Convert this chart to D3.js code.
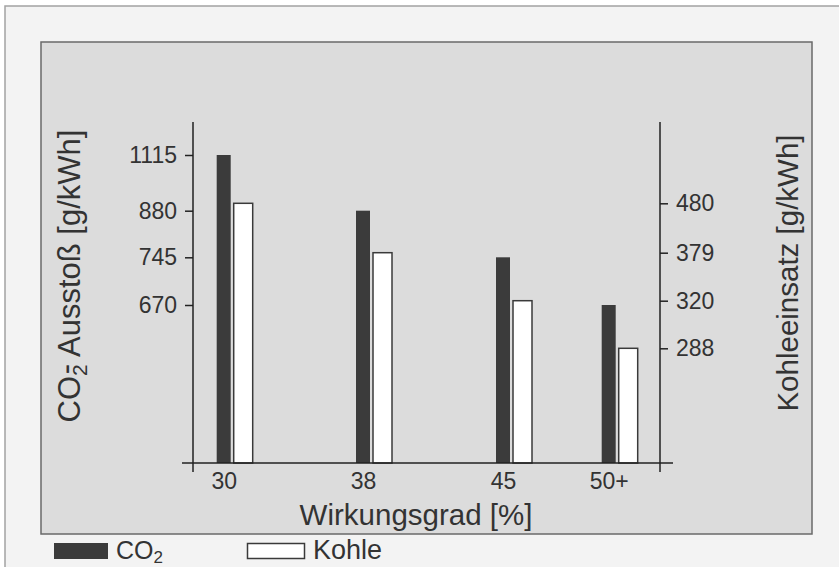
<!DOCTYPE html>
<html>
<head>
<meta charset="utf-8">
<script src="https://cdn.jsdelivr.net/npm/d3@7"></script>
<style>
  html, body { margin: 0; padding: 0; background: #ffffff; }
  svg { display: block; font-family: "Liberation Sans", Arial, Helvetica, sans-serif; }
</style>
</head>
<body>
<svg id="chart" width="839" height="567"></svg>
<script>
// ---- data ----
const categories = ["30", "38", "45", "50+"];
const efficiency = [30, 38, 45, 50];
const co2Values = [1115, 880, 745, 670];
const kohleValues = [480, 379, 320, 288];
const co2Ticks = [670, 745, 880, 1115];
const kohleTicks = [288, 320, 379, 480];

// ---- layout ----
const axisLeftX = 193, axisRightX = 660;
const baseY = 463, axisTopY = 122;
const textColor = "#333333";
const darkFill = "#3b3b3b";

const svg = d3.select("#chart");

// outer frame
svg.append("rect").attr("x", 5).attr("y", 6).attr("width", 900).attr("height", 700)
  .attr("fill", "#f3f3f3").attr("stroke", "#a3a3a3").attr("stroke-width", 1.5);
// panel
svg.append("rect").attr("x", 41).attr("y", 42).attr("width", 771).attr("height", 492)
  .attr("fill", "#dcdcdc").attr("stroke", "#6a6a6a").attr("stroke-width", 1.5);

// ---- scales (axes are not linear in the original: ticks sit at the bar heights) ----
const x = d3.scaleLinear()
  .domain(efficiency)
  .range([223.7, 363, 503, 608.7]);

const yLeft = d3.scaleLinear()
  .domain([0].concat(co2Ticks))
  .range([baseY, 305, 257.3, 210.7, 155]);

const yRight = d3.scaleLinear()
  .domain([0].concat(kohleTicks))
  .range([baseY, 348.3, 300.7, 252.7, 203.3]);

const co2W = 14, kohleW = 19, kohleOff = 10;

// ---- bars ----
svg.append("g").selectAll("rect").data(efficiency).join("rect")
  .attr("x", (d) => x(d) - co2W / 2)
  .attr("y", (d, i) => yLeft(co2Values[i]))
  .attr("width", co2W)
  .attr("height", (d, i) => baseY - yLeft(co2Values[i]))
  .attr("fill", darkFill);

svg.append("g").selectAll("rect").data(efficiency).join("rect")
  .attr("x", (d) => x(d) + kohleOff)
  .attr("y", (d, i) => yRight(kohleValues[i]))
  .attr("width", kohleW)
  .attr("height", (d, i) => baseY - yRight(kohleValues[i]))
  .attr("fill", "#ffffff")
  .attr("stroke", "#3a3a3a")
  .attr("stroke-width", 1.5);

// ---- axes ----
function styleAxis(g) {
  g.select(".domain").remove();
  g.selectAll("line").attr("stroke", "#222").attr("stroke-width", 1.5);
  g.selectAll("text").attr("fill", textColor).attr("font-size", 23)
    .attr("font-family", "'Liberation Sans', Arial, sans-serif");
}

svg.append("g").attr("transform", `translate(${axisLeftX},0)`)
  .call(d3.axisLeft(yLeft).tickValues(co2Ticks).tickFormat(d3.format("d")).tickSize(8).tickPadding(8))
  .call(styleAxis);

svg.append("g").attr("transform", `translate(${axisRightX},0)`)
  .call(d3.axisRight(yRight).tickValues(kohleTicks).tickFormat(d3.format("d")).tickSize(8).tickPadding(8))
  .call(styleAxis);

svg.append("g").attr("transform", `translate(0,${baseY})`)
  .call(d3.axisBottom(x).tickValues(efficiency)
    .tickFormat((d, i) => categories[i]).tickSize(0).tickPadding(10))
  .call(styleAxis);

// axis lines (cross style)
const axisLines = [
  [axisLeftX, axisTopY, axisLeftX, baseY + 9],
  [axisRightX, axisTopY, axisRightX, baseY + 9],
  [axisLeftX - 11, baseY, axisRightX + 13, baseY]
];
svg.append("g").selectAll("line").data(axisLines).join("line")
  .attr("x1", d => d[0]).attr("y1", d => d[1]).attr("x2", d => d[2]).attr("y2", d => d[3])
  .attr("stroke", "#222").attr("stroke-width", 1.5);

// ---- titles ----
svg.append("text").attr("x", 416).attr("y", 525).attr("text-anchor", "middle")
  .attr("font-size", 29.5).attr("fill", textColor).text("Wirkungsgrad [%]");

const lt = svg.append("text").attr("transform", "translate(80,276) rotate(-90)")
  .attr("text-anchor", "middle").attr("font-size", 31).attr("fill", textColor);
lt.append("tspan").text("CO");
lt.append("tspan").attr("dy", 7).attr("font-size", 21).text("2");
lt.append("tspan").attr("dx", -10).attr("dy", -11).text("-");
lt.append("tspan").attr("dy", 4).text(" Ausstoß [g/kWh]");

svg.append("text").attr("transform", "translate(798,273) rotate(-90)")
  .attr("text-anchor", "middle").attr("font-size", 29.5).attr("fill", textColor)
  .text("Kohleeinsatz [g/kWh]");

// ---- legend ----
const legend = svg.append("g");
legend.append("rect").attr("x", 54).attr("y", 543).attr("width", 54).attr("height", 16)
  .attr("fill", darkFill);
const l1 = legend.append("text").attr("x", 116).attr("y", 559).attr("font-size", 25).attr("fill", textColor);
l1.append("tspan").text("CO");
l1.append("tspan").attr("dy", 4).attr("font-size", 17).text("2");

legend.append("rect").attr("x", 247.5).attr("y", 543.5).attr("width", 57).attr("height", 15)
  .attr("fill", "#ffffff").attr("stroke", "#3a3a3a").attr("stroke-width", 1.5);
legend.append("text").attr("x", 313).attr("y", 559).attr("font-size", 27).attr("fill", textColor)
  .text("Kohle");
</script>
</body>
</html>
